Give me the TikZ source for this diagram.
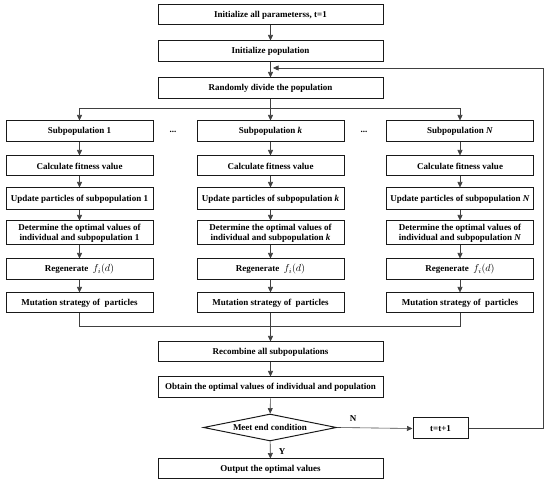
\documentclass[tikz,border=0pt]{standalone}
\usepackage{fontspec}
\setmainfont{Liberation Serif}
\usetikzlibrary{shapes.geometric,arrows.meta}
\begin{document}
\begin{tikzpicture}[x=1pt,y=-1pt,
  font=\fontsize{9}{10}\selectfont\bfseries,
  mainbox/.style={draw=black!90, line width=1pt, minimum width=225pt, minimum height=21pt, inner sep=0pt, align=center},
  colbox/.style={draw=black!90, line width=1pt, minimum width=147pt, minimum height=21pt, inner sep=0pt, align=center},
  conn/.style={draw=black!75, line width=0.6pt},
  arr/.style={conn, -{Triangle[length=5.5pt,width=5pt]}},
  lbl/.style={inner sep=0pt}
]
\useasboundingbox (0,0) rectangle (550,486);

% main column
\node[mainbox, minimum height=20pt] (init) at (270.5,15) {Initialize all parameterss, t=1};
\node[mainbox] (pop) at (270.5,51.5) {Initialize population};
\node[mainbox] (rand) at (270.5,88.5) {Randomly divide the population};

% columns
\foreach \c/\x/\s in {a/79.5/1, b/270.5/{\textit{k}}, c/460/{\textit{N}}}{
  \node[colbox] (\c1) at (\x,131.5) {Subpopulation \s};
  \node[colbox, minimum height=20pt] (\c2) at (\x,166) {Calculate fitness value};
  \node[colbox, minimum height=22pt] (\c3) at (\x,199) {Update particles of subpopulation \s};
  \node[colbox, minimum height=24pt, font=\fontsize{9}{10}\selectfont\bfseries] (\c4) at (\x,233) {Determine the optimal values of\\individual and subpopulation \s};
  \node[colbox] (\c5) at (\x,269.5) {Regenerate \ {\fontsize{10}{10}\selectfont$f_i(d)$}};
  \node[colbox, minimum height=20pt] (\c6) at (\x,303) {Mutation strategy of \ particles};
  \draw[arr] (\c1) -- (\c2);
  \draw[arr] (\c2) -- (\c3);
  \draw[arr] (\c3) -- (\c4);
  \draw[arr] (\c4) -- (\c5);
  \draw[arr] (\c5) -- (\c6);
}
\node[lbl] (dots1) at (173,132) {...};
\node[lbl] (dots2) at (364,132) {...};

\node[mainbox, minimum height=20pt] (recomb) at (270.5,352) {Recombine all subpopulations};
\node[mainbox] (obtain) at (270.5,387.5) {Obtain the optimal values of individual and population};
\node[diamond, draw=black!90, line width=1pt, minimum width=133pt, minimum height=27pt, inner sep=0pt, aspect=5] (meet) at (270,427.5) {Meet end condition};
\node[draw=black!90, line width=1pt, minimum width=55pt, minimum height=21pt, inner sep=0pt] (tinc) at (440.5,428.5) {t=t+1};
\node[mainbox, minimum height=20pt] (out) at (270.5,469) {Output the optimal values};

% connectors top
\draw[arr] (init) -- (pop);
\draw[arr] (pop) -- (rand);
\coordinate (lp1) at (543,428.5);
\coordinate (lp2) at (543,68);
\coordinate (lp3) at (273,68);
\draw[arr] (tinc.east) -- (lp1) -- (lp2) -- (lp3);

% branch
\coordinate (brL) at (79.5,108.5);
\coordinate (brR) at (460,108.5);
\draw[conn] (brL) -- (brR);
\draw[arr] (rand) -- (b1);
\draw[arr] (brL) -- (a1);
\draw[arr] (brR) -- (c1);

% merge
\coordinate (mgL) at (79.5,326);
\coordinate (mgR) at (460,326);
\draw[conn] (a6.south) -- (mgL) -- (mgR) -- (c6.south);
\draw[arr] (b6) -- (recomb);

\draw[arr] (recomb) -- (obtain);
\draw[arr] (obtain) -- (meet);
\draw[arr] (meet) -- (out);
\draw[arr] (meet.east) -- (tinc.west);
\node[lbl] (ylab) at (282,452) {Y};
\node[lbl] (nlab) at (353,419) {N};
\end{tikzpicture}
\end{document}
